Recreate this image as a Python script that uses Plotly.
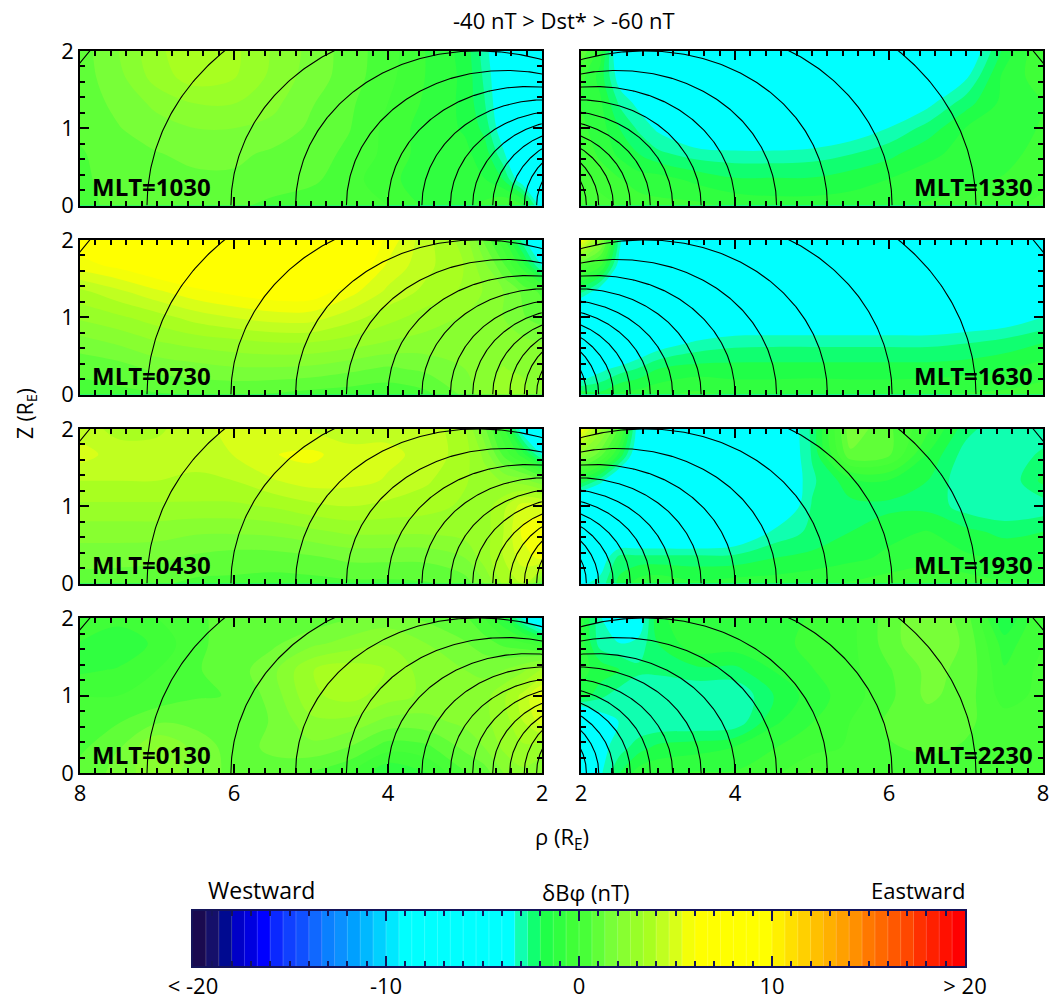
import numpy as np
import plotly.graph_objects as go

# Grid
rho = [2, 2.25, 2.5, 2.75, 3, 3.5, 4, 4.5, 5, 5.5, 6, 6.5, 7, 7.5, 8]
zee = [0, 0.33, 0.67, 1, 1.33, 1.67, 2]

mlt_1030 = [
 [-4,-0.5,0,-0.5,-0.8,-0.8,0,0.3,0.3,0.5,0.8,1,1.2,1,0.3],
 [-6,-4,-2,-1.3,-1,-1,-0.5,0.3,0.8,1,1.2,1.2,1.2,1,0.5],
 [-6,-5,-3.2,-1.6,-1.2,-1,-0.2,0.5,1,1.2,1.5,1.5,1.3,1,0.6],
 [-6,-6,-4,-2.2,-1.4,-1,-0.2,0.7,1.2,1.8,2,2,1.7,1.3,0.8],
 [-6,-6,-4.2,-2.6,-1.5,-0.8,0,0.8,1.4,2.2,2.7,2.7,2.2,1.5,1],
 [-6,-6,-4.3,-2.8,-1.5,-0.7,0.2,1,1.7,2.5,3.4,3.7,3,1.8,1],
 [-6,-6,-4.5,-3,-1.6,-0.7,0.3,1,1.8,2.6,3.5,3.8,3.2,2,1],
]
mlt_1330 = [
 [0.5,0.3,0,-0.3,-0.5,-0.5,-0.8,-1,-1,-1,-0.8,-0.6,-0.4,-0.2,0.2],
 [0.3,-0.3,-0.6,-1,-1,-1.5,-1.9,-1.9,-1.9,-1.6,-1.3,-1,-0.8,-0.6,-0.2],
 [-0.2,-0.8,-1.5,-2.0,-2.5,-3,-3.1,-3.1,-3,-2.7,-2.2,-1.5,-1.1,-0.9,-0.4],
 [-0.5,-1,-2,-2.8,-3.5,-4.5,-5,-5,-4.6,-4,-3.3,-2.4,-1.3,-1,-0.6],
 [-0.7,-1.2,-2.8,-3.6,-5,-6,-6,-6,-6,-5.5,-4.8,-3.6,-2.3,-1.1,-0.7],
 [-0.4,-1.6,-3.8,-5,-6,-6.5,-6.5,-6.5,-6,-6,-5.5,-5,-3.5,-1.1,-0.3],
 [1.5,-1,-4.5,-5.5,-6,-6.5,-6.5,-6.5,-6,-6,-6,-5.5,-4.3,-1.8,0],
]
mlt_0730 = [
 [2,3,3,2.5,1.5,0.5,0.2,0.3,0.4,0.6,0.7,0.7,0.6,0.5,0.4],
 [2,2.5,2.7,2.5,2,1.5,1.2,1.5,1.8,1.9,1.9,1.7,1.5,1,0.8],
 [2,2.2,2.4,2.4,2.4,2.4,2.6,3,3.3,3.3,3.1,2.9,2.6,2.1,1.7],
 [1,1.4,2,2.5,2.6,3,3.6,4.3,5,5,4.7,4.3,3.7,3.2,2.8],
 [0.5,1.2,2,2.6,3.2,3.8,4.5,5.6,6.5,6.5,6.2,5.8,5.2,4.5,3.8],
 [-3.5,-1,0.8,2.2,3.3,4.2,5.2,7,7.5,7.5,7.5,7.2,6.8,6.2,5.7],
 [-6,-3,-0.5,1.2,3,4.2,5.8,7.5,8,8,8,8,7.5,7,6.5],
]
mlt_1630 = [
 [-1.5,-1.8,-1.2,-1,-0.8,-0.5,-0.8,-0.8,-0.7,-0.8,-0.8,-0.7,-0.6,-0.5,-0.3],
 [-5,-3.6,-3,-2.6,-2,-1.7,-1.7,-1.7,-1.7,-1.7,-1.7,-1.7,-1.6,-1.4,-1],
 [-6,-6,-6,-4.5,-3.9,-3.2,-2.9,-2.85,-2.85,-2.85,-2.85,-2.85,-2.7,-2.4,-2],
 [-6,-6,-6,-6,-6,-5,-4.5,-4.5,-4.5,-4.5,-4.5,-4.5,-4.2,-4,-3.33],
 [-2.5,-4,-6,-6,-6,-6,-6,-6,-6,-6,-6,-6,-6,-6,-6],
 [0.5,-0.5,-3.8,-6,-6,-6,-6,-6,-6,-6,-6,-6,-6,-6,-6],
 [6,2.5,-3,-6,-6,-9.6,-6,-6,-6,-6,-6,-6,-6,-6,-6],
]
mlt_0430 = [
 [1.5,4,3.5,2,1,0.6,0.5,0.5,0.4,0.4,0.5,0.5,0.8,0.9,1],
 [5.5,5,4,3,2,1.5,1.5,1.5,1.2,1,1,1.2,1.5,1.6,1.6],
 [6,5.5,4,3,3,2.8,2.8,2.8,2.5,2.2,2.1,2.1,2.3,2.3,2.3],
 [5,5,3.8,3,3.2,3.6,3.8,4,3.8,3.4,3.2,3.2,3.2,3.2,3.2],
 [1.5,2.3,2.6,3,3.4,4.1,4.6,4.9,5,4.6,4,3.9,4,4,4],
 [-3.5,-1,0.5,2.5,3.6,4.5,4.8,5,5.5,5.3,4.7,4.2,4.2,4.3,5],
 [-6,-4,-0.5,1.5,3.4,4.5,4.5,4.2,4.6,5,5,4.3,3.9,3.8,4.3],
]
mlt_1930 = [
 [-3.5,-3,-1.8,-1,-0.8,-1.2,-1,-1,-0.8,-0.6,-0.3,0,-0.3,-0.6,-0.6],
 [-5,-4,-2.4,-2.4,-2.4,-2.4,-2.4,-2,-1.8,-1.5,-1.2,-1,-1.2,-1.4,-1.4],
 [-6,-6,-5,-5,-5,-5,-4.5,-3.2,-2.5,-2,-1.5,-1.3,-1.8,-2.2,-2],
 [-6,-6,-6,-6,-6,-6,-6,-4.8,-2.6,-2.2,-2.2,-2.2,-3,-3.3,-3.1],
 [-1.5,-3,-5,-6,-6,-6,-6,-5,-2.8,-1.6,-1.4,-2,-3.2,-3.3,-1.8],
 [2.5,1,-1.5,-4.5,-6,-6,-6,-5,-2.6,1.2,0.8,-1.4,-3,-3.3,-2.5],
 [6,3,0.5,-4,-6,-6,-6,-5,-2.5,1.8,0.8,-0.5,-2.4,-3.3,-3.2],
]
mlt_0130 = [
 [2,2.5,2,1,0.6,-0.7,-1.3,0,0.6,1,1.2,1.6,2.6,1.5,1],
 [3,3.2,2.8,2,1.5,0.5,0.3,1.3,1.8,1.5,1,1.8,2.7,1.3,0.5],
 [5,4,3,2.5,2.2,1.8,1.8,2.5,2.5,1.4,0.8,1.1,1.2,0.6,0.4],
 [5.5,4.2,3.2,2.4,2.2,2.5,3,3.6,3.2,1.6,0.7,0.6,0.2,0,0],
 [3.5,2.5,2,1.8,2,2.3,3.3,3.7,3.3,1.8,1,0.6,0,-0.6,-0.8],
 [-0.5,0.2,0.5,1,1.4,2,2.6,2.3,1.8,1.2,1,0.5,-0.5,-1.2,-0.7],
 [-6,-3.5,-1.3,0,0.8,1.2,1.6,1.3,0.9,1,1,0.5,0,-0.4,-0.2],
]
mlt_2230 = [
 [-4,-3.5,-2,-1,-0.8,-0.6,-0.6,-0.2,0.8,0.4,0.2,0.3,0.5,0.4,0.3],
 [-5.5,-3.6,-3,-2.3,-1.8,-1.6,-1.3,-0.7,-0.3,0.1,0.6,0.8,0.6,0.4,0.3],
 [-6,-3.8,-3.3,-3.3,-3.3,-3.3,-3.2,-1.5,-0.7,0,0.8,1,0.8,0.3,0.3],
 [-1.5,-2.5,-3,-3.3,-3.3,-3.3,-3.3,-2,-1,-0.3,0.5,1.5,1,-0.3,0.2],
 [-1.2,-1.5,-2,-2.5,-2.5,-2.2,-2.2,-1.3,-0.7,-0.2,0.6,1.5,1.2,-0.6,0.2],
 [-1,-3,-3.3,-3.1,-2,-0.8,-0.9,-1,-0.4,-0.2,1,2,1.2,-1,0],
 [-1,-3.2,-5,-4,-1.5,-0.8,-1,-1,-0.6,-0.2,1,2,1,-2,0],
]

# Equatorial crossing distances of the field lines.
# The curves themselves follow the dipole field-line shape through these feet.
shell_feet = [2.07, 2.23, 2.42, 2.64, 2.9, 3.19, 3.56, 4.0, 4.54, 5.2, 6.04, 7.13, 8.65]

# Palette: the 60 cells of the legend bar
cell_colors = [
 "#1a0a50","#15106a","#000a90","#0000c8","#0000e0","#0000ff","#0a28ff","#1040ff","#1050ff","#1068ff",
 "#0a80ff","#0a90ff","#00a0ff","#00b8ff","#00d0ff","#00e8ff","#00ffff","#00ffff","#00ffff","#00ffff",
 "#00ffff","#00ffff","#00ffff","#00ffff","#00ffff","#10ffb0","#10ff70","#20ff48","#30ff40","#40ff38",
 "#48ff38","#60ff38","#78ff38","#88ff30","#98ff28","#a8ff20","#c0ff20","#d8ff18","#f4ff08","#ffff00",
 "#ffff00","#ffff00","#ffff00","#ffff00","#ffff00","#fff000","#ffe000","#ffd000","#ffc000","#ffb000",
 "#ffa000","#ff9000","#ff7800","#ff6800","#ff5800","#ff4800","#ff3000","#ff2000","#ff1000","#ff0000",
]
bar_edges = [-20 + i * 40 / 60 for i in range(61)]
bar_tickvals = [-20, -10, 0, 10, 20]
bar_ticktext = ["< -20", "-10", "0", "10", "> 20"]

W, H = 1051, 1000
FONT = "Open Sans"
def px(x): return x / W
def py(y): return 1 - y / H

colorscale = []
for i, c in enumerate(cell_colors):
    colorscale += [[i / 60, c], [(i + 1) / 60, c]]

panels = [
 ("1030", mlt_1030, 0, 0), ("1330", mlt_1330, 1, 0),
 ("0730", mlt_0730, 0, 1), ("1630", mlt_1630, 1, 1),
 ("0430", mlt_0430, 0, 2), ("1930", mlt_1930, 1, 2),
 ("0130", mlt_0130, 0, 3), ("2230", mlt_2230, 1, 3),
]
rows_px = [(51, 205.5), (240, 394.5), (429, 583.5), (618, 773)]
cols_px = [(80, 542), (581, 1043)]

fig = go.Figure()
layout = {}
annotations = []
lat = np.radians(np.linspace(0, 60, 240))

for k, (name, grid, col, row) in enumerate(panels):
    idx = k + 1
    suffix = "" if idx == 1 else str(idx)
    xa, ya = f"x{suffix}", f"y{suffix}"
    xname, yname = f"xaxis{suffix}", f"yaxis{suffix}"
    fig.add_trace(go.Contour(
        x=rho, y=zee, z=grid, xaxis=xa, yaxis=ya,
        colorscale=colorscale, zmin=-20, zmax=20, showscale=False,
        autocontour=False, contours=dict(start=-20, end=20, size=40 / 60, coloring="fill", showlines=False),
        line=dict(width=0), hoverinfo="skip",
    ))
    for L in shell_feet:
        fig.add_trace(go.Scatter(
            x=L * np.cos(lat) ** 3, y=L * np.cos(lat) ** 2 * np.sin(lat),
            xaxis=xa, yaxis=ya, mode="lines", line=dict(color="black", width=1.1),
            showlegend=False, hoverinfo="skip",
        ))
    common = dict(showgrid=False, zeroline=False, showline=True, linecolor="black", linewidth=1.5,
                  mirror="allticks", ticks="inside", ticklen=9, tickwidth=2, tickcolor="black",
                  automargin=False, tick0=0,
                  tickfont=dict(family=FONT, size=22, color="black"))
    minor = dict(ticks="inside", tickmode="linear", tick0=0, dtick=0.2, ticklen=5, tickwidth=1.5,
                 tickcolor="black", showgrid=False)
    x0, x1 = cols_px[col]
    y0, y1 = rows_px[row]
    layout[xname] = dict(common, domain=[px(x0), px(x1)], anchor=ya,
                         range=[8, 2] if col == 0 else [2, 8], dtick=2,
                         showticklabels=row == 3, minor=minor)
    layout[yname] = dict(common, domain=[py(y1), py(y0)], anchor=xa, range=[0, 2],
                         dtick=1, showticklabels=col == 0, minor=minor)
    annotations.append(dict(
        text=f"<b>MLT={name}</b>", xref="paper", yref="paper",
        x=px(90) if col == 0 else px(1035), y=py(y1 - 19),
        xanchor="left" if col == 0 else "right", yanchor="middle", showarrow=False,
        font=dict(family=FONT, size=24, color="black"),
    ))

# Legend bar
n = len(panels) + 1
bar_centers = [(a + b) / 2 for a, b in zip(bar_edges[:-1], bar_edges[1:])]
fig.add_trace(go.Heatmap(
    x=bar_centers, y=[0, 1], z=[bar_centers, bar_centers], xaxis=f"x{n}", yaxis=f"y{n}",
    colorscale=colorscale, zmin=-20, zmax=20, showscale=False, hoverinfo="skip",
))
sx, sy = [], []
for e in bar_edges[1:-1]:
    sx += [e, e, None]; sy += [-0.5, 1.5, None]
fig.add_trace(go.Scatter(x=sx, y=sy, xaxis=f"x{n}", yaxis=f"y{n}", mode="lines",
                         line=dict(color="rgba(255,255,255,0.2)", width=1), showlegend=False, hoverinfo="skip"))
NAVY = "#14145a"
layout[f"xaxis{n}"] = dict(domain=[px(193), px(965)], anchor=f"y{n}", range=[-20, 20], automargin=False,
    tickvals=bar_tickvals, ticktext=bar_ticktext, ticks="inside", ticklen=10, tickwidth=2, tickcolor=NAVY,
    showline=True, linecolor=NAVY, linewidth=1.5, mirror="allticks", showgrid=False, zeroline=False,
    tickfont=dict(family=FONT, size=22, color="black"),
    minor=dict(ticks="inside", tickmode="linear", tick0=0, dtick=1, ticklen=5, tickwidth=1.5,
               tickcolor=NAVY, showgrid=False))
layout[f"yaxis{n}"] = dict(domain=[py(966), py(911)], anchor=f"x{n}", range=[-0.5, 1.5], automargin=False,
    showticklabels=False, ticks="", showline=True, linecolor=NAVY, linewidth=1.5, mirror=True,
    showgrid=False, zeroline=False)

def note(text, x, y, size=20, anchor="center", angle=0):
    annotations.append(dict(text=text, xref="paper", yref="paper", x=px(x), y=py(y),
                            xanchor=anchor, yanchor="middle", showarrow=False, textangle=angle,
                            font=dict(family=FONT, size=size, color="black")))

note("-40 nT > Dst* > -60 nT", 564, 20, 22)
note("Z (R<sub>E</sub>)", 26, 414, 21, angle=-90)
note("ρ (R<sub>E</sub>)", 562, 838, 22)
note("Westward", 261, 890, 23)
note("δBφ (nT)", 585, 892, 22)
note("Eastward", 918, 890, 22)

fig.update_layout(
    width=W, height=H, autosize=False, margin=dict(l=0, r=0, t=0, b=0),
    paper_bgcolor="white", plot_bgcolor="white", showlegend=False,
    annotations=annotations, **layout,
)
# The page's default body margin would push the figure 8 px in and cut off its edge.
fig.write_html("out.html", config={"displayModeBar": False},
               post_script="document.body.style.margin='0';")
